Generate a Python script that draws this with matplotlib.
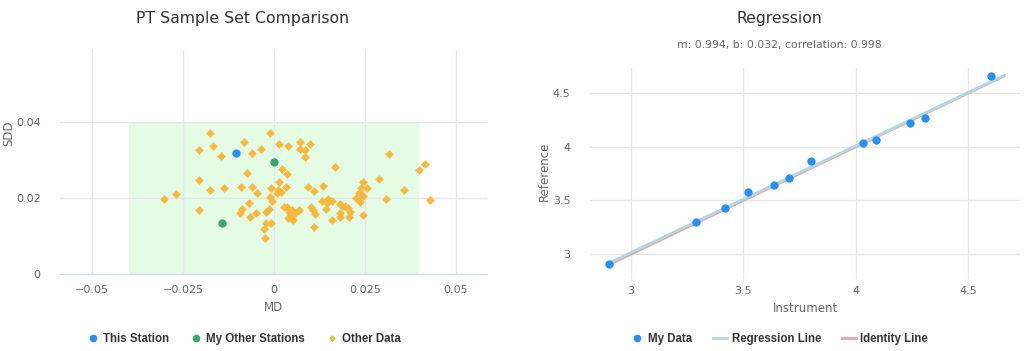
import numpy as np
import matplotlib as mpl
mpl.use('Agg')
import matplotlib.pyplot as plt
from matplotlib.lines import Line2D

plt.rcParams['font.family'] = ['DejaVu Sans']

# ---- left chart data (MD, SDD) ----
station_md = [-0.0105]
station_sdd = [0.0320]
my_other_md = [0.0001, -0.0142]
my_other_sdd = [0.0296, 0.0134]
other_md = [-0.0176, -0.0082, -0.0169, -0.0207, -0.0061, -0.0145, -0.0074, -0.0207,
            -0.0270, -0.0302, -0.0175, -0.0137, -0.0092, -0.0061, -0.0046, -0.0207,
            -0.0069, -0.0087, -0.0094, -0.0066, -0.0050, -0.0037, -0.0011, 0.0014,
            0.0039, 0.0022, 0.0035, 0.0013, 0.0012, 0.0019, 0.0007, 0.0032,
            -0.0009, -0.0010, -0.0006, -0.0023, -0.0013, 0.0028, 0.0035, 0.0042,
            0.0047, 0.0039, 0.0053, -0.0023, -0.0009, -0.0029, -0.0024, 0.0049,
            0.0058, 0.0070, 0.0072, 0.0072, 0.0099, 0.0085, 0.0085, 0.0315,
            0.0415, 0.0400, 0.0168, 0.0290, 0.0246, 0.0238, 0.0257, 0.0235,
            0.0246, 0.0226, 0.0237, 0.0358, 0.0308, 0.0429, 0.0093, 0.0111,
            0.0134, 0.0133, 0.0148, 0.0145, 0.0159, 0.0182, 0.0186, 0.0195,
            0.0204, 0.0209, 0.0182, 0.0101, 0.0106, 0.0113, 0.0143, 0.0182,
            0.0160, 0.0207, 0.0244, 0.0111]
other_sdd = [0.0373, 0.0349, 0.0338, 0.0327, 0.0318, 0.0311, 0.0266, 0.0248,
             0.0211, 0.0197, 0.0221, 0.0228, 0.0230, 0.0230, 0.0214, 0.0168,
             0.0187, 0.0171, 0.0160, 0.0150, 0.0160, 0.0331, 0.0373, 0.0342,
             0.0338, 0.0276, 0.0265, 0.0244, 0.0222, 0.0216, 0.0213, 0.0230,
             0.0228, 0.0202, 0.0193, 0.0164, 0.0171, 0.0177, 0.0176, 0.0164,
             0.0154, 0.0148, 0.0142, 0.0134, 0.0134, 0.0119, 0.0094, 0.0169,
             0.0162, 0.0169, 0.0349, 0.0331, 0.0342, 0.0327, 0.0308, 0.0316,
             0.0289, 0.0274, 0.0281, 0.0250, 0.0243, 0.0226, 0.0228, 0.0214,
             0.0206, 0.0200, 0.0191, 0.0222, 0.0197, 0.0195, 0.0229, 0.0218,
             0.0233, 0.0193, 0.0197, 0.0188, 0.0193, 0.0185, 0.0179, 0.0179,
             0.0174, 0.0164, 0.0161, 0.0176, 0.0169, 0.0158, 0.0171, 0.0151,
             0.0142, 0.0151, 0.0156, 0.0123]
limit_md = 0.04
limit_sdd = 0.04
md_ticks = [-0.05, -0.025, 0, 0.025, 0.05]
md_labels = ['−0.05', '−0.025', '0', '0.025', '0.05']
sdd_ticks = [0, 0.02, 0.04]
sdd_labels = ['0', '0.02', '0.04']

# ---- right chart data (instrument vs reference) ----
instrument = [2.904, 3.289, 3.420, 3.523, 3.638, 3.705, 3.801, 4.034, 4.092, 4.243, 4.308, 4.601]
reference = [2.910, 3.298, 3.434, 3.581, 3.646, 3.708, 3.863, 4.031, 4.065, 4.221, 4.270, 4.655]
slope, intercept, corr = 0.994, 0.032, 0.998
line_x = [2.904, 4.66]
reg_ticks = [3, 3.5, 4, 4.5]
reg_labels = ['3', '3.5', '4', '4.5']

GRID = '#e6e6e6'
AXIS = '#ccd6eb'
LBL = '#666666'

fig = plt.figure(figsize=(10.24, 3.51), dpi=100)
W, H = 1024., 351.


def px_axes(l, t, r, b):
    return fig.add_axes([l / W, 1 - b / H, (r - l) / W, (b - t) / H])


def style(ax):
    for s in ax.spines.values():
        s.set_visible(False)
    ax.grid(True, color=GRID, lw=1)
    ax.set_axisbelow(True)
    ax.tick_params(colors=LBL, labelsize=8, length=0)


# left chart
ax1 = px_axes(60, 50, 487, 274)
style(ax1)
ax1.spines['bottom'].set_visible(True)
ax1.spines['bottom'].set_color(AXIS)
ax1.fill_between([-limit_md, limit_md], 0, limit_sdd, color='#e4fbe4', lw=0, zorder=0.5)
ax1.scatter(other_md, other_sdd, marker='D', s=20, color='#f5b942', lw=0, zorder=3)
ax1.scatter(my_other_md, my_other_sdd, marker='o', s=36, color='#3aa76d', lw=0, zorder=4)
ax1.scatter(station_md, station_sdd, marker='o', s=36, color='#2b8ff0', lw=0, zorder=4)
ax1.set_xlim(-0.0589, 0.0586)
ax1.set_ylim(0, 0.0591)
ax1.set_xticks(md_ticks, md_labels)
ax1.set_yticks(sdd_ticks, sdd_labels)
ax1.tick_params(axis='x', pad=8)
ax1.tick_params(axis='y', pad=14)
ax1.set_xlabel('MD', color=LBL, fontsize=8.5, labelpad=4)
ax1.set_ylabel('SDD', color=LBL, fontsize=8.5)
ax1.yaxis.set_label_coords(-0.105, 0.63)

# right chart
ax2 = px_axes(590, 68, 1020, 274)
style(ax2)
ax2.plot(line_x, line_x, color='#f0a0a0', lw=2, zorder=2)
reg_y = [slope * v + intercept for v in line_x]
ax2.plot(line_x, reg_y, color='#add8e6', lw=2, zorder=2.5)
ax2.scatter(instrument, reference, marker='o', s=36, color='#2b8ff0', lw=0, zorder=4)
ax2.set_xlim(2.819, 4.73)
ax2.set_ylim(2.816, 4.733)
ax2.set_xticks(reg_ticks, reg_labels)
ax2.set_yticks(reg_ticks, reg_labels)
ax2.tick_params(axis='x', length=5, color=GRID, pad=4)
ax2.tick_params(axis='y', pad=14)
ax2.set_xlabel('Instrument', color=LBL, fontsize=8.5, labelpad=4)
ax2.set_ylabel('Reference', color=LBL, fontsize=8.5)
ax2.yaxis.set_label_coords(-0.09, 0.5)

# titles
fig.text(243 / W, 1 - 18 / H, 'PT Sample Set Comparison', ha='center', va='center',
         fontsize=11.3, color='#333333')
fig.text(779 / W, 1 - 18 / H, 'Regression', ha='center', va='center',
         fontsize=11.3, color='#333333')
fig.text(779 / W, 1 - 45 / H, 'm: {:.3f}, b: {:.3f}, correlation: {:.3f}'.format(slope, intercept, corr),
         ha='center', va='center', fontsize=7.8, color=LBL)

# legends
leg_kw = dict(loc='center', frameon=False, ncol=3, handletextpad=0.4, columnspacing=1.8,
              prop={'family': 'Liberation Sans', 'weight': 'bold', 'size': 8.3},
              labelcolor='#333333')
h1 = [Line2D([], [], ls='', marker='o', ms=5.5, color='#2b8ff0', mew=0),
      Line2D([], [], ls='', marker='o', ms=5.5, color='#3aa76d', mew=0),
      Line2D([], [], ls='', marker='D', ms=3.5, color='#f5b942', mew=0)]
fig.legend(h1, ['This Station', 'My Other Stations', 'Other Data'],
           bbox_to_anchor=(244 / W, 1 - 339 / H), handlelength=1.0, **leg_kw)
h2 = [Line2D([], [], ls='', marker='o', ms=5.5, color='#2b8ff0', mew=0),
      Line2D([], [], color='#add8e6', lw=2),
      Line2D([], [], color='#f0a0a0', lw=2)]
fig.legend(h2, ['My Data', 'Regression Line', 'Identity Line'],
           bbox_to_anchor=(779 / W, 1 - 339 / H), handlelength=1.2, **leg_kw)

fig.savefig('out.png', dpi=100)
